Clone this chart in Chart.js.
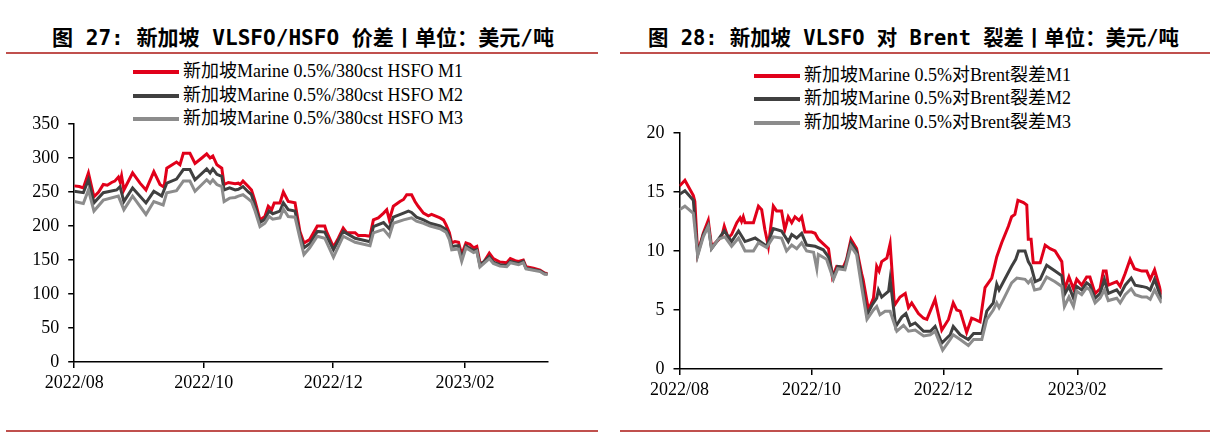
<!DOCTYPE html>
<html>
<head>
<meta charset="utf-8">
<script src="https://cdn.jsdelivr.net/npm/chart.js@4.4.1/dist/chart.umd.min.js"></script>
<style>
  html, body { margin:0; padding:0; background:#fff; }
  body { width:1212px; height:433px; position:relative; overflow:hidden; }
  .title { position:absolute; white-space:nowrap; font-family:"DejaVu Sans Mono","Noto Sans CJK SC",sans-serif; font-weight:bold; font-size:21px; line-height:21px; color:#000; transform-origin:left center; }
  .rule { position:absolute; height:2px; background:#C0504D; }
  .leg { position:absolute; white-space:nowrap; font-family:"Liberation Serif","Times New Roman","Noto Sans CJK SC",serif; font-size:18px; line-height:20px; color:#000; }
  .sw { position:absolute; height:4px; }
  canvas { position:absolute; }
</style>
</head>
<body>
<div class="rule" style="left:6px; width:592px; top:52px;"></div>
<div class="rule" style="left:620px; width:590px; top:52px;"></div>
<div class="rule" style="left:6px; width:592px; top:430px;"></div>
<div class="rule" style="left:620px; width:590px; top:430px;"></div>

<div id="t1" class="title" style="left:52px; top:28px;">图 27: 新加坡 VLSFO/HSFO 价差丨单位：美元/吨</div>
<div id="t2" class="title" style="left:648px; top:28px;">图 28: 新加坡 VLSFO 对 Brent 裂差丨单位：美元/吨</div>

<div id="legL"></div>
<div id="legR"></div>

<canvas id="cL" width="606" height="320" style="left:0px; top:100px;"></canvas>
<canvas id="cR" width="606" height="320" style="left:606px; top:100px;"></canvas>

<script>
// ---------- data ----------
const monthTicks  = [0, 61, 122, 184];
const monthLabels = ['2022/08', '2022/10', '2022/12', '2023/02'];

const leftNames = ['新加坡Marine 0.5%/380cst HSFO M1', '新加坡Marine 0.5%/380cst HSFO M2', '新加坡Marine 0.5%/380cst HSFO M3'];
const rightNames = ['新加坡Marine 0.5%对Brent裂差M1', '新加坡Marine 0.5%对Brent裂差M2', '新加坡Marine 0.5%对Brent裂差M3'];

// left chart: day offset from 2022-08-01, value (USD/t)
const leftM1Days = [0,2.4,4.3,6.7,9.3,11.5,13.7,15.6,17.6,19.1,20.8,21.6,22.3,23.4,27.5,31.0,33.8,37.5,40.4,42.3,43.6,48.2,49.8,51.4,54.5,56.9,60.1,62.4,64.0,65.3,67.2,69.5,70.6,72.6,75.8,77.3,78.2,79.5,82.0,83.5,85.2,87.5,89.8,91.4,93.0,94.2,96.9,98.5,100.8,104.0,106.3,108.2,110.9,114.5,118.0,118.8,122.1,124.4,126.7,128.4,132.3,133.8,137.0,139.3,140.9,143.2,145.7,147.2,148.4,150.3,153.4,155.1,156.6,158.9,160.5,162.0,164.5,166.8,168.3,172.3,173.9,175.1,176.7,177.8,179.3,181.0,182.5,184.5,186.4,188.1,189.6,191.1,192.7,195.5,197.4,200.5,203.7,205.4,207.7,209.3,211.5,212.8,216.3,219.4,221.5,223];
const leftM1     = [259,258,256,278,243,250,261,260,264,266,272,265,274,253,278,263,253,280,261,257,285,294,290,307,307,292,300,306,300,303,290,285,261,264,262,263,261,266,258,253,236,209,214,229,224,234,234,250,236,234,192,175,180,200,200,192,169,182,197,190,190,186,186,185,209,212,219,224,209,229,236,239,246,246,236,229,219,215,217,212,209,202,190,175,177,176,158,175,173,168,170,146,146,160,152,147,146,152,149,148,150,140,138,135,131,130];

const leftM2Days = [0,4.3,6.7,9.3,13.7,20.0,21.6,23.4,27.5,33.8,37.5,41.2,43.6,48.2,51.4,54.5,56.9,62.4,64.0,65.3,67.2,69.5,70.6,73.2,75.8,77.3,79.5,82.0,83.5,85.2,87.5,89.8,91.8,93.5,96.9,98.5,100.8,104.0,106.3,108.2,110.9,114.5,118.0,122.1,126.7,132.3,139.3,140.9,145.7,148.4,150.3,155.1,157.4,158.9,161.2,164.5,167.6,172.3,175.1,176.7,177.8,181.0,182.5,184.5,188.1,189.6,191.1,195.5,197.4,200.5,203.7,205.4,209.3,211.5,212.8,219.4,221.5,223];
const leftM2     = [251,249,268,234,249,253,258,236,256,234,251,244,263,269,283,283,268,284,278,284,276,273,253,256,253,254,258,250,246,229,205,210,222,218,222,234,224,222,187,168,174,192,191,165,192,182,177,199,205,196,213,219,222,220,213,209,204,200,195,185,170,171,152,171,164,165,142,155,147,143,142,148,145,148,138,134,130,129];

const leftM3Days = [0,4.3,6.7,9.3,13.7,20.8,23.4,27.5,33.8,37.5,41.9,43.6,48.2,51.4,54.5,56.9,62.4,64.0,65.3,67.2,69.5,70.6,73.2,75.8,77.3,79.5,82.0,83.5,85.2,87.5,89.8,91.8,93.5,96.9,98.5,100.8,104.0,106.3,108.2,110.9,114.5,118.0,122.1,126.7,132.3,139.3,140.9,145.7,148.4,150.3,155.1,158.9,161.2,164.5,167.6,172.3,175.1,176.7,177.8,181.0,182.5,184.5,188.1,189.6,191.1,195.5,197.4,200.5,203.7,205.4,209.3,211.5,212.8,219.4,221.5,223];
const leftM3     = [236,233,253,222,238,244,224,244,217,236,231,249,252,266,266,251,268,263,268,261,258,236,241,242,244,246,240,236,222,199,204,214,210,212,225,214,213,182,158,168,185,182,154,185,176,171,190,195,185,204,209,212,207,204,200,196,191,180,165,166,148,168,161,163,140,152,145,141,140,146,143,146,137,133,129,129];

// right chart: day offset from 2022-08-01, value (USD/t)
const rightM1Days = [0,2.5,6.4,7.1,8.4,11.0,13.3,14.8,17.2,19.5,20.7,22.5,24.1,26.5,28.0,28.7,29.5,30.3,34.2,36.5,38.0,39.5,41.1,43.4,44.9,47.2,48.7,50.3,51.9,53.4,55.3,56.5,58.0,61.1,62.7,64.2,66.5,68.9,70.7,72.7,75.7,77.3,79.3,81.9,84.2,84.9,87.4,89.7,91.2,92.3,93.5,95.9,97.4,99.4,102.0,104.4,105.9,107.4,110.5,112.9,114.4,118.2,121.3,124.4,126.6,128.2,129.8,132.8,135.1,136.6,139.0,141.3,144.4,146.7,149.0,152.1,153.6,155.1,156.5,159.1,160.6,161.3,162.6,163.6,166.8,169.1,171.4,173.7,176.8,178.0,180.1,182.2,183.7,186.0,188.3,189.8,192.2,194.5,196.0,197.3,198.3,202.2,203.8,206.1,208.4,210.4,213.8,216.1,217.7,219.7,223];
const rightM1     = [15.5,16.0,14.7,14.2,9.8,11.5,12.6,10.4,10.8,11.2,12.1,11.1,11.4,12.4,12.8,12.5,12.9,12.4,12.4,13.8,13.5,11.8,10.4,13.8,13.4,13.4,11.8,12.9,12.4,12.9,12.6,12.9,11.6,11.6,11.5,11.0,10.6,10.2,7.8,8.7,8.6,9.3,11.0,10.2,8.1,7.6,5.0,6.0,8.7,8.3,9.1,9.4,10.6,5.4,6.1,6.4,5.2,5.6,4.7,4.3,4.2,5.9,3.3,4.2,5.6,5.0,4.9,3.1,4.3,4.2,4.0,6.9,7.7,9.5,10.7,12.1,12.9,13.1,14.3,14.1,13.9,11.0,11.0,9.0,9.0,10.5,10.2,10.0,9.1,6.7,7.8,6.8,7.6,7.1,7.8,7.8,6.4,6.8,8.3,8.3,7.1,7.4,7.0,8.1,9.3,8.5,8.3,8.3,7.6,8.4,6.3];

const rightM2Days = [0,2.5,6.4,8.4,11.0,13.3,14.8,17.2,20.7,24.1,27.3,30.3,35.0,40.3,43.4,47.2,50.3,51.9,54.2,56.5,58.8,62.7,66.5,68.9,71.2,73.2,76.5,79.3,81.9,84.2,86.7,89.0,91.2,92.0,93.5,96.7,97.4,100.0,102.8,104.7,106.7,109.0,112.9,116.0,118.2,121.3,125.2,126.6,129.8,133.6,136.0,139.8,142.1,145.1,146.7,147.8,149.8,153.6,155.5,156.8,159.8,161.3,162.6,164.5,166.8,169.8,173.7,176.8,178.0,180.1,182.2,183.7,186.0,188.3,189.8,192.2,194.5,196.5,198.3,202.2,203.8,206.1,208.9,210.7,213.8,216.1,217.7,219.7,223];
const rightM2     = [14.8,15.1,14.3,9.7,11.4,12.2,10.2,10.8,11.7,10.8,11.7,10.8,11.1,10.4,11.9,11.7,10.8,11.4,11.1,11.5,10.5,10.4,10.1,9.5,7.7,8.7,8.6,10.7,10.0,7.6,4.6,5.4,6.0,6.7,6.1,6.6,7.6,3.6,4.4,4.7,3.7,3.9,3.2,3.2,3.6,2.2,2.9,3.6,2.9,2.5,3.0,3.0,4.9,5.6,7.2,6.7,7.4,8.7,9.3,10.0,10.0,9.1,8.7,7.4,7.6,8.8,8.3,7.9,6.3,7.0,6.0,7.0,6.7,7.3,7.1,6.0,6.4,7.6,6.4,6.7,6.3,7.1,7.7,7.1,7.0,6.9,6.7,7.6,5.9];

const rightM3Days = [0,2.5,6.4,8.4,11.0,13.3,14.8,18.0,21.0,24.1,27.3,30.3,34.2,36.5,40.3,43.4,47.2,49.5,51.9,54.2,56.5,58.8,62.0,63.5,64.2,68.0,71.2,73.2,76.5,79.3,81.9,84.2,86.7,89.7,91.2,92.7,95.1,97.4,100.5,103.6,105.9,109.0,112.9,116.0,118.2,121.7,125.2,126.6,129.8,133.6,136.0,139.8,142.1,145.1,146.7,147.8,149.8,153.6,156.0,159.8,161.3,162.6,164.2,166.8,169.8,173.7,176.8,178.0,180.1,182.2,183.7,186.0,188.3,189.8,192.2,194.5,196.5,198.3,202.2,203.8,206.1,208.9,210.7,213.8,216.1,217.7,219.7,223];
const rightM3     = [13.5,13.8,13.2,9.6,11.2,12.1,10.2,11.0,11.2,10.4,11.1,10.0,10.0,10.7,10.3,11.2,11.1,10.0,10.5,10.2,10.7,10.0,9.9,8.5,9.7,9.3,7.6,8.5,8.4,10.4,9.7,7.0,4.2,5.0,5.3,4.6,4.9,4.9,3.2,3.7,3.2,3.3,2.8,2.9,3.2,1.6,2.5,2.9,2.5,2.0,2.5,2.5,4.2,5.0,5.6,5.2,5.9,7.3,7.7,7.6,7.3,7.6,6.7,6.8,7.8,7.4,7.0,5.3,6.1,5.3,6.6,6.3,6.9,6.7,5.6,6.0,6.7,5.8,6.0,5.6,6.3,6.8,6.3,6.1,6.1,5.9,6.7,5.6];

// ---------- styling ----------
const seriesColors = ['#E1001A', '#404040', '#8C8C8C'];
const tickFont = { family: '"Liberation Serif","Times New Roman",serif', size: 18 };

function pts(days, vals) { return days.map((d, i) => ({ x: d, y: vals[i] })); }

function buildLegend(holderId, names, lineLeft, rowYs) {
  const holder = document.getElementById(holderId);
  names.forEach((n, i) => {
    const sw = document.createElement('div');
    sw.className = 'sw';
    sw.style.left = lineLeft + 'px';
    sw.style.width = '46px';
    sw.style.top = (rowYs[i] - 2) + 'px';
    sw.style.background = seriesColors[i];
    holder.appendChild(sw);
    const t = document.createElement('div');
    t.className = 'leg';
    t.style.left = (lineLeft + 50) + 'px';
    t.style.top = (rowYs[i] - 11) + 'px';
    t.textContent = n;
    holder.appendChild(t);
  });
}
buildLegend('legL', leftNames, 133, [72, 96, 119]);
buildLegend('legR', rightNames, 754, [76, 99, 123]);

function makeChart(id, series, names, yMax, yStep, yAxisW, pad) {
  const datasets = series.map((s, i) => ({
    label: names[i],
    data: pts(s[0], s[1]),
    borderColor: seriesColors[i],
    backgroundColor: seriesColors[i],
    borderWidth: 3,
    pointRadius: 0,
    tension: 0,
    fill: false,
    order: 2 - i
  }));
  return new Chart(document.getElementById(id), {
    type: 'line',
    data: { datasets },
    options: {
      responsive: false,
      animation: false,
      devicePixelRatio: 1,
      layout: { padding: pad },
      plugins: { legend: { display: false }, tooltip: { enabled: false }, title: { display: false } },
      scales: {
        x: {
          type: 'linear', min: 0, max: 223,
          afterFit: (s) => { s.height = 40; },
          afterBuildTicks: (s) => { s.ticks = monthTicks.map(v => ({ value: v })); },
          ticks: {
            autoSkip: false, maxRotation: 0, padding: 4, color: '#000', font: tickFont,
            callback: (v) => { const k = monthTicks.indexOf(v); return k >= 0 ? monthLabels[k] : ''; }
          },
          grid: { drawOnChartArea: false, drawTicks: true, tickLength: 6, color: '#000', lineWidth: 1.5 },
          border: { display: true, color: '#000', width: 1.5 }
        },
        y: {
          type: 'linear', min: 0, max: yMax,
          afterFit: (s) => { s.width = yAxisW; },
          ticks: { stepSize: yStep, padding: 9, color: '#000', font: tickFont },
          grid: { drawOnChartArea: false, drawTicks: true, tickLength: 6, color: '#000', lineWidth: 1.5 },
          border: { display: true, color: '#000', width: 1.5 }
        }
      }
    }
  });
}

makeChart('cL', [[leftM1Days, leftM1], [leftM2Days, leftM2], [leftM3Days, leftM3]], leftNames,
  350, 50, 74.2, { left: 0, right: 58.3, top: 24, bottom: 18 });
makeChart('cR', [[rightM1Days, rightM1], [rightM2Days, rightM2], [rightM3Days, rightM3]], rightNames,
  20, 5, 73.5, { left: 0, right: 50.3, top: 33, bottom: 11 });

function fitTitle(id, targetW) {
  const el = document.getElementById(id);
  const w = el.getBoundingClientRect().width;
  if (w > 0) el.style.transform = 'scaleX(' + (targetW / w) + ')';
}
(document.fonts ? document.fonts.ready : Promise.resolve()).then(() => {
  fitTitle('t1', 502);
  fitTitle('t2', 531);
});
</script>
</body>
</html>
